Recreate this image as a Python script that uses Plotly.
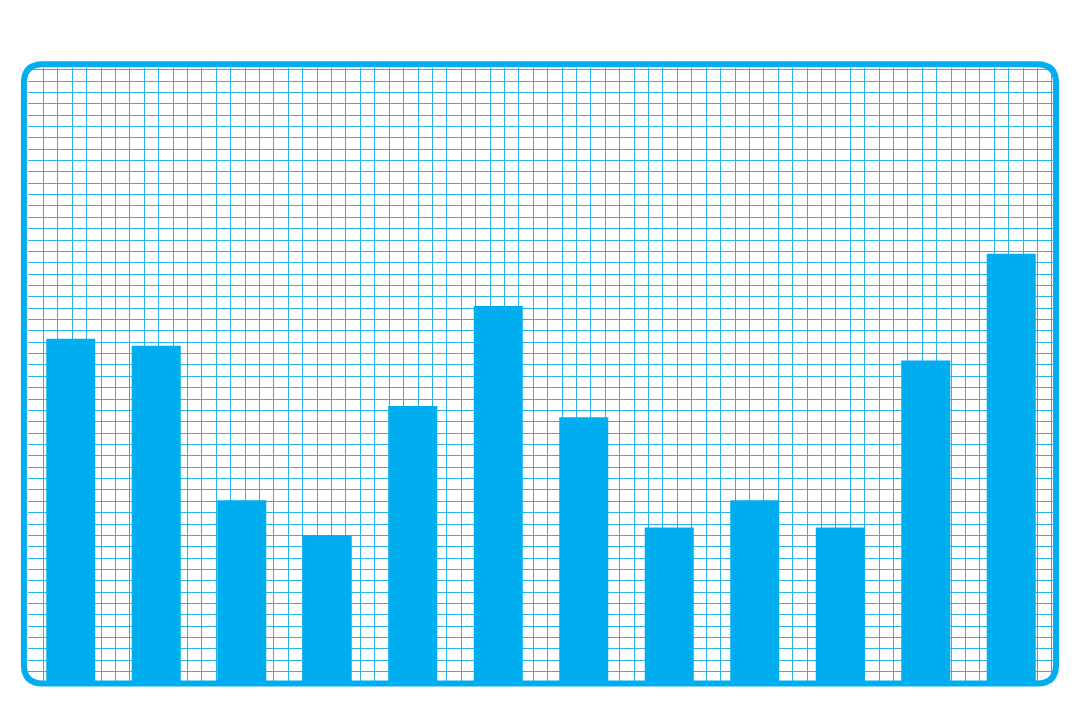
import plotly.graph_objects as go

# bar data (no axis labels in the source, values in grid-square units)
categories = ["1", "2", "3", "4", "5", "6", "7", "8", "9", "10", "11", "12"]
values = [30.3, 29.7, 16.1, 13.0, 24.4, 33.2, 23.4, 13.7, 16.1, 13.7, 28.4, 37.8]

blue = "#00ADEE"
grid_blue = "#27B4EA"

fig = go.Figure()

fig.add_trace(
    go.Bar(
        x=categories,
        y=values,
        marker=dict(color=blue, line=dict(width=0)),
        hoverinfo="skip",
    )
)

# invisible trace so the overlay axis (vertical grid lines) gets drawn
fig.add_trace(
    go.Scatter(
        x=[0],
        y=[0],
        xaxis="x2",
        mode="markers",
        marker=dict(opacity=0),
        hoverinfo="skip",
        showlegend=False,
    )
)

# rounded frame around the plot area, in paper units
x0, x1 = -0.004, 1.002
y0, y1 = -0.001, 1.006
rx, ry = 19 / 1026, 19 / 615
frame = (
    f"M {x0 + rx},{y1} L {x1 - rx},{y1} Q {x1},{y1} {x1},{y1 - ry} "
    f"L {x1},{y0 + ry} Q {x1},{y0} {x1 - rx},{y0} "
    f"L {x0 + rx},{y0} Q {x0},{y0} {x0},{y0 + ry} "
    f"L {x0},{y1 - ry} Q {x0},{y1} {x0 + rx},{y1} Z"
)

fig.update_layout(
    width=1080,
    height=720,
    margin=dict(l=20, r=34, t=60, b=45),
    paper_bgcolor="white",
    plot_bgcolor="white",
    showlegend=False,
    bargap=0.427,
    xaxis=dict(
        type="category",
        showgrid=False,
        showticklabels=False,
        zeroline=False,
        showline=False,
        ticks="",
    ),
    xaxis2=dict(
        overlaying="x",
        range=[-0.069, 71.14],
        dtick=1,
        tick0=0,
        showgrid=True,
        gridcolor=grid_blue,
        gridwidth=1,
        showticklabels=False,
        zeroline=False,
        ticks="",
        layer="below traces",
    ),
    yaxis=dict(
        range=[0, 54.15],
        dtick=1,
        tick0=0,
        showgrid=True,
        gridcolor=grid_blue,
        gridwidth=1,
        showticklabels=False,
        zeroline=False,
        ticks="",
    ),
    shapes=[
        dict(
            type="path",
            xref="paper",
            yref="paper",
            path=frame,
            line=dict(color=blue, width=6),
            fillcolor="rgba(0,0,0,0)",
            layer="above",
        )
    ],
)

fig.write_html("out.html")
